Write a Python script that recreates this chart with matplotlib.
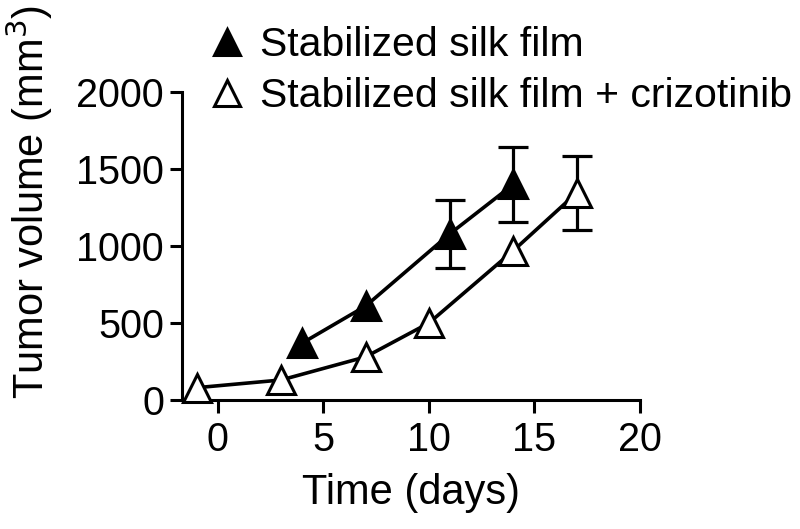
import matplotlib
matplotlib.use("Agg")
import matplotlib.pyplot as plt
from matplotlib.lines import Line2D
import numpy as np

plt.rcParams['font.family'] = ['Liberation Sans', 'DejaVu Sans']

# Data
days_film = [4, 7, 11, 14]
vol_film = [370, 610, 1080, 1400]
err_film = [np.nan, np.nan, 220, 245]

days_criz = [-1, 3, 7, 10, 14, 17]
vol_criz = [80, 130, 280, 500, 970, 1345]
err_criz = [np.nan, np.nan, np.nan, np.nan, np.nan, 240]

labels = ["Stabilized silk film", "Stabilized silk film + crizotinib"]
xticks = [0, 5, 10, 15, 20]
yticks = [0, 500, 1000, 1500, 2000]

fig = plt.figure(figsize=(8, 5.29), dpi=100)
ax = fig.add_axes([182/800, 1-400/529, (640-182)/800, (400-92)/529])

lw = 2.3
ms = 19.5
mew = 2.2

ax.errorbar(days_film, vol_film, yerr=err_film, fmt='none', ecolor='black',
            elinewidth=lw, capsize=11, capthick=lw, zorder=2, clip_on=False)
ax.errorbar(days_criz, vol_criz, yerr=err_criz, fmt='none', ecolor='black',
            elinewidth=lw, capsize=11, capthick=lw, zorder=2, clip_on=False)

ax.plot(days_film, vol_film, color='black', lw=2.6, marker='^', ms=ms,
        mfc='black', mec='black', mew=mew, zorder=3, clip_on=False)
ax.plot(days_criz, vol_criz, color='black', lw=2.6, marker='^', ms=ms,
        mfc='white', mec='black', mew=mew, zorder=3, clip_on=False)

ax.set_xlim(-1.7, 20)
ax.set_ylim(0, 2000)
ax.set_xticks(xticks)
ax.set_yticks(yticks)

for s in ['top', 'right']:
    ax.spines[s].set_visible(False)
for s in ['left', 'bottom']:
    ax.spines[s].set_linewidth(2.2)

ax.tick_params(axis='both', width=2.2, length=9, labelsize=28.5, color='black')
ax.tick_params(axis='x', pad=6)
ax.tick_params(axis='y', pad=4)

ax.set_xlabel("Time (days)", fontsize=30, labelpad=10)
fig.text(29/800, 1-202/529, "Tumor volume (mm$^{3}$)", rotation=90,
         ha='center', va='center', fontsize=30)

handles = [
    Line2D([], [], ls='none', marker='^', ms=19, mfc='black', mec='black', mew=mew),
    Line2D([], [], ls='none', marker='^', ms=19, mfc='white', mec='black', mew=mew),
]
fig.legend(handles, labels, loc='upper left', bbox_to_anchor=(207/800, 1-26/529),
           frameon=False, fontsize=29.5, handlelength=1.0, handletextpad=0.3,
           labelspacing=0.32, borderpad=0, borderaxespad=0)

fig.savefig("out.png", dpi=100)
